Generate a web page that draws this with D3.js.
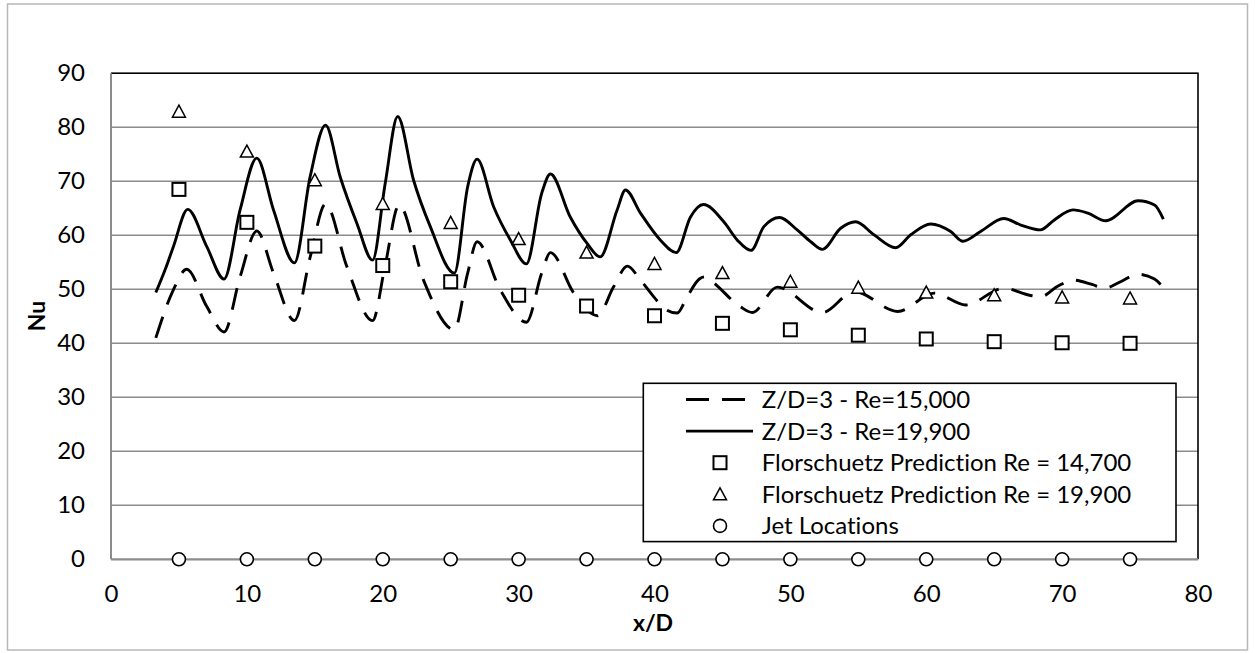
<!DOCTYPE html>
<html>
<head>
<meta charset="utf-8">
<script src="https://cdn.jsdelivr.net/npm/d3@7"></script>
<style>
  html, body { margin: 0; padding: 0; background: #fff; }
  svg { display: block; }
  text { font-family: Lato, "Open Sans", sans-serif; fill: #000; font-variant-ligatures: none; }
</style>
</head>
<body>
<svg id="chart" width="1255" height="653"></svg>
<script>
// ---------- data ----------
const xTicks = [0, 10, 20, 30, 40, 50, 60, 70, 80];
const yTicks = [0, 10, 20, 30, 40, 50, 60, 70, 80, 90];

const jetX = [5, 10, 15, 20, 25, 30, 35, 40, 45, 50, 55, 60, 65, 70, 75];
const jetNu = [0, 0, 0, 0, 0, 0, 0, 0, 0, 0, 0, 0, 0, 0, 0];

const predX = [5, 10, 15, 20, 25, 30, 35, 40, 45, 50, 55, 60, 65, 70, 75];
const predRe14700 = [68.5, 62.4, 58.0, 54.4, 51.4, 48.9, 46.9, 45.1, 43.7, 42.5, 41.5, 40.8, 40.3, 40.1, 40.0];
const predRe19900 = [82.9, 75.5, 70.2, 65.8, 62.3, 59.3, 56.8, 54.7, 53.0, 51.4, 50.3, 49.4, 48.9, 48.5, 48.3];

const re15000X = [3.3, 4.59, 5.57, 7.05, 8.32, 9.5, 10.73, 11.96, 13.5, 14.66, 15.79, 17.36, 19.25, 20.16, 21.2,
  23.0, 25.27, 26.25, 26.94, 28.65, 30.57, 31.7, 32.34, 34.06, 35.8, 37.0, 38.0, 38.97, 39.95, 40.7, 41.67,
  42.4, 43.3, 43.7, 44.1, 46.3, 47.2, 49.04, 52.35, 54.7, 57.9, 60.6, 62.9, 65.7, 67.6, 68.4, 69.7, 70.8,
  72.2, 73.1, 74.3, 75.55, 76.8, 77.45];
const re15000Nu = [41.0, 49.9, 53.7, 46.8, 42.1, 52.3, 60.8, 53.0, 44.2, 56.0, 65.8, 54.2, 44.2, 54.2, 65.6,
  51.7, 42.5, 53.0, 58.8, 49.9, 43.9, 53.0, 56.8, 49.3, 45.1, 50.5, 54.3, 51.7, 48.6, 46.5, 45.6,
  48.6, 51.9, 52.3, 51.7, 46.8, 45.7, 50.4, 45.7, 49.6, 45.9, 49.3, 47.1, 50.2, 48.9, 48.6, 50.6, 51.7,
  50.9, 50.2, 51.4, 52.8, 51.9, 50.3];

const re19900X = [3.3, 3.98, 4.59, 5.65, 7.05, 8.32, 9.5, 10.73, 11.96, 13.5, 14.66, 15.79, 16.87, 18.1, 19.25,
  20.18, 21.1, 22.27, 23.5, 25.27, 26.25, 26.94, 28.16, 29.4, 30.57, 31.7, 32.34, 33.8, 35.04, 36.0,
  37.25, 37.86, 38.97, 40.44, 41.6, 42.65, 43.6, 45.1, 46.1, 47.1, 48.05, 49.2, 50.5, 51.5, 52.35,
  53.7, 54.8, 56.15, 57.75, 58.86, 60.33, 61.8, 62.7, 64.0, 65.7, 66.96, 68.4, 69.4, 70.8, 71.9,
  73.2, 75.6, 76.8, 77.45];
const re19900Nu = [49.4, 53.6, 57.9, 64.8, 57.9, 51.9, 64.7, 74.3, 64.7, 54.9, 70.9, 80.4, 70.8, 62.2, 55.4,
  69.6, 82.0, 70.2, 61.6, 53.0, 69.0, 74.1, 65.3, 59.1, 54.7, 67.8, 71.35, 63.4, 58.5, 56.0,
  64.7, 68.4, 64.1, 59.1, 56.8, 63.4, 65.7, 62.5, 59.1, 57.2, 61.6, 63.3, 61.0, 58.8, 57.4,
  61.3, 62.5, 60.1, 57.7, 60.1, 62.1, 60.7, 58.9, 60.7, 63.1, 61.9, 61.0, 62.8, 64.7, 64.1,
  62.7, 66.4, 65.6, 63.0];

const legendLabels = ["Z/D=3 - Re=15,000", "Z/D=3 - Re=19,900", "Florschuetz Prediction Re = 14,700",
  "Florschuetz Prediction Re = 19,900", "Jet Locations"];
const xTitle = "x/D";
const yTitle = "Nu";

// ---------- layout ----------
const svg = d3.select("#chart");
const L = 111, R = 1198, T = 73.3, B = 559.3;
const x = d3.scaleLinear().domain([0, 80]).range([L, R]);
const y = d3.scaleLinear().domain([0, 90]).range([B, T]);

// outer chart border
svg.append("rect").attr("x", 7.5).attr("y", 4).attr("width", 1240).attr("height", 646)
  .attr("fill", "#fff").attr("stroke", "#b8b8b8").attr("stroke-width", 1.5);

// gridlines
svg.append("g").selectAll("line").data(yTicks.filter(d => d > 0)).join("line")
  .attr("x1", L).attr("x2", R).attr("y1", d => y(d)).attr("y2", d => y(d))
  .attr("stroke", "#8c8c8c").attr("stroke-width", 1.6);

// plot area border (top/right black)
svg.append("path").attr("d", `M${L},${T}H${R}V${B}`).attr("fill", "none")
  .attr("stroke", "#000").attr("stroke-width", 1.6);

// axes lines
svg.append("line").attr("x1", L).attr("x2", L).attr("y1", T).attr("y2", B)
  .attr("stroke", "#8c8c8c").attr("stroke-width", 2);
svg.append("line").attr("x1", L).attr("x2", R).attr("y1", B).attr("y2", B)
  .attr("stroke", "#8c8c8c").attr("stroke-width", 2.2);

// tick labels via d3 axes
const yAxis = svg.append("g").attr("transform", `translate(${L},0)`)
  .call(d3.axisLeft(y).tickValues(yTicks).tickSize(0).tickPadding(26));
const xAxis = svg.append("g").attr("transform", `translate(0,${B})`)
  .call(d3.axisBottom(x).tickValues(xTicks).tickSize(0).tickPadding(26));
[yAxis, xAxis].forEach(g => {
  g.select(".domain").remove();
  g.selectAll("text").style("font-family", "Lato, sans-serif").style("font-size", "24px").attr("fill", "#000");
});

// axis titles
svg.append("text").attr("transform", "translate(45,316) rotate(-90)").attr("text-anchor", "middle")
  .style("font-size", "23px").style("font-weight", "bold").text(yTitle);
svg.append("text").attr("x", 653).attr("y", 631).attr("text-anchor", "middle")
  .style("font-size", "23px").style("font-weight", "bold").text(xTitle);

// curves
const line = d3.line().x(d => x(d[0])).y(d => y(d[1])).curve(d3.curveMonotoneX);
svg.append("path").datum(re15000X.map((v, i) => [v, re15000Nu[i]]))
  .attr("d", line).attr("fill", "none").attr("stroke", "#000").attr("stroke-width", 2.9)
  .attr("stroke-dasharray", "22,13");
svg.append("path").datum(re19900X.map((v, i) => [v, re19900Nu[i]]))
  .attr("d", line).attr("fill", "none").attr("stroke", "#000").attr("stroke-width", 2.9);

// marker helpers
const sq = 13, tri = 13;
function square(g, cx, cy) {
  g.append("rect").attr("x", cx - sq / 2).attr("y", cy - sq / 2).attr("width", sq).attr("height", sq)
    .attr("fill", "#fff").attr("stroke", "#000").attr("stroke-width", 2);
}
function triangle(g, cx, cy) {
  const h = 11;
  g.append("path").attr("d", `M${cx},${cy - h / 2 - 1}L${cx + tri / 2},${cy + h / 2}L${cx - tri / 2},${cy + h / 2}Z`)
    .attr("fill", "#fff").attr("stroke", "#000").attr("stroke-width", 1.5);
}
function circle(g, cx, cy) {
  g.append("circle").attr("cx", cx).attr("cy", cy).attr("r", 6.5)
    .attr("fill", "#fff").attr("stroke", "#000").attr("stroke-width", 1.6);
}

const mk = svg.append("g");
predX.forEach((v, i) => square(mk, x(v), y(predRe14700[i])));
predX.forEach((v, i) => triangle(mk, x(v), y(predRe19900[i])));
jetX.forEach((v, i) => circle(mk, x(v), y(jetNu[i])));

// legend
const lg = svg.append("g");
lg.append("rect").attr("x", 643.3).attr("y", 383.3).attr("width", 532.7).attr("height", 158.3)
  .attr("fill", "#fff").attr("stroke", "#000").attr("stroke-width", 1.6);
const rowY = i => 399.5 + i * 31.6;
const textX = 761.7, symX = 720;
lg.append("line").attr("x1", 686).attr("x2", 753).attr("y1", rowY(0)).attr("y2", rowY(0))
  .attr("stroke", "#000").attr("stroke-width", 2.9).attr("stroke-dasharray", "23,13");
lg.append("line").attr("x1", 686).attr("x2", 753).attr("y1", rowY(1)).attr("y2", rowY(1))
  .attr("stroke", "#000").attr("stroke-width", 2.9);
square(lg, symX, rowY(2));
triangle(lg, symX, rowY(3));
circle(lg, symX, rowY(4));
legendLabels.forEach((t, i) => {
  lg.append("text").attr("x", textX).attr("y", rowY(i)).attr("dy", "0.35em")
    .style("font-size", "24px").text(t);
});
</script>
</body>
</html>
